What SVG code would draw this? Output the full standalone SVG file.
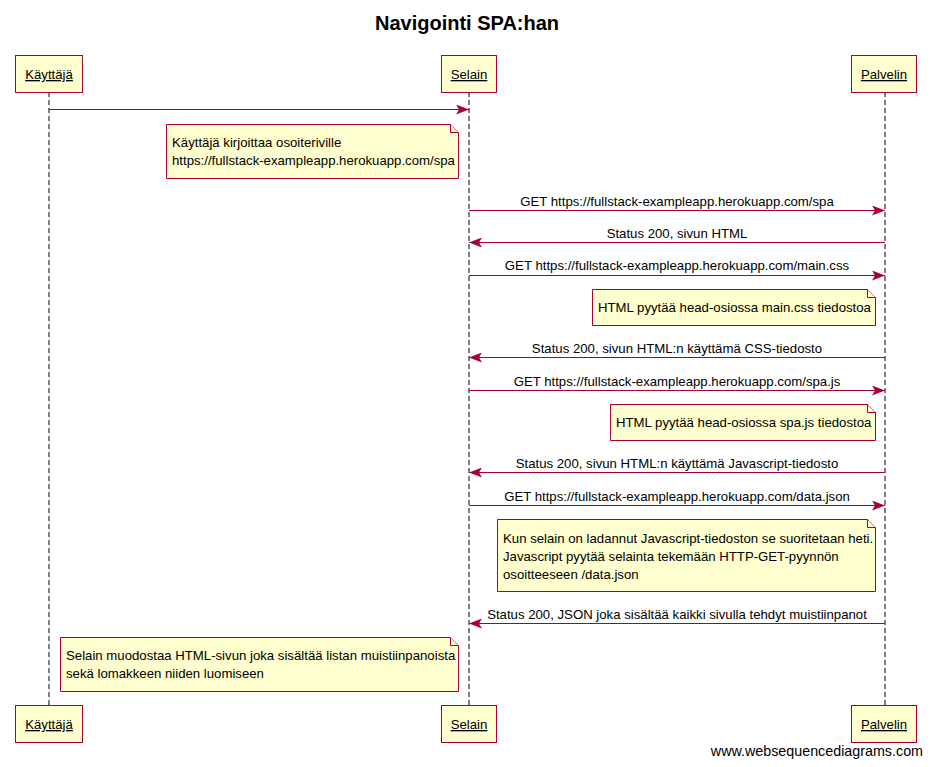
<svg xmlns="http://www.w3.org/2000/svg" width="932" height="767" viewBox="0 0 932 767">
<style>
text{font-family:"Liberation Sans",Arial,sans-serif;font-size:13.2px;fill:#000}
.box{fill:#FEFECE;stroke:#A80036;stroke-width:1}
.life{stroke:#000;stroke-width:1;stroke-dasharray:5,3}
.msg{stroke:#A80036;stroke-width:1;fill:none}
.note{fill:#FEFECE;stroke:#A80036;stroke-width:1}
.pt{text-decoration:underline;text-anchor:middle}
.ml{text-anchor:middle}
</style>
<defs>
<marker id="ah" markerWidth="14" markerHeight="10" refX="13" refY="5" orient="auto" markerUnits="userSpaceOnUse">
<path d="M0,0 L13,5 L0,10 L3,5 Z" fill="#A80036"/>
</marker>
</defs>
<rect width="932" height="767" fill="#fff"/>
<text x="467" y="30" style="font-size:20px;font-weight:bold" text-anchor="middle">Navigointi SPA:han</text>
<g id="lifelines">
<line class="life" x1="49" y1="92" x2="49" y2="705"/>
<line class="life" x1="469" y1="92" x2="469" y2="705"/>
<line class="life" x1="885" y1="92" x2="885" y2="705"/>
</g>
<g id="kayttaja">
<rect class="box" x="15.5" y="55.5" width="67" height="37"/>
<text class="pt" x="49" y="79">Käyttäjä</text>
<rect class="box" x="15.5" y="705.5" width="67" height="37"/>
<text class="pt" x="49" y="729">Käyttäjä</text>
</g>
<g id="selain">
<rect class="box" x="441.5" y="55.5" width="55" height="37"/>
<text class="pt" x="469" y="79">Selain</text>
<rect class="box" x="441.5" y="705.5" width="55" height="37"/>
<text class="pt" x="469" y="729">Selain</text>
</g>
<g id="palvelin">
<rect class="box" x="851.5" y="55.5" width="65" height="37"/>
<text class="pt" x="884" y="79">Palvelin</text>
<rect class="box" x="851.5" y="705.5" width="65" height="37"/>
<text class="pt" x="884" y="729">Palvelin</text>
</g>
<g id="connectors">
<line class="msg" x1="49" y1="109.5" x2="469" y2="109.5" marker-end="url(#ah)"/>
<line class="msg" x1="469" y1="210.5" x2="885" y2="210.5" marker-end="url(#ah)"/>
<text class="ml" x="677" y="206">GET https://fullstack-exampleapp.herokuapp.com/spa</text>
<line class="msg" x1="885" y1="242.5" x2="469" y2="242.5" marker-end="url(#ah)"/>
<text class="ml" x="677" y="238">Status 200, sivun HTML</text>
<line class="msg" x1="469" y1="275.5" x2="885" y2="275.5" marker-end="url(#ah)"/>
<text class="ml" x="677" y="270">GET https://fullstack-exampleapp.herokuapp.com/main.css</text>
<line class="msg" x1="885" y1="357.5" x2="469" y2="357.5" marker-end="url(#ah)"/>
<text class="ml" x="677" y="353">Status 200, sivun HTML:n käyttämä CSS-tiedosto</text>
<line class="msg" x1="469" y1="390.5" x2="885" y2="390.5" marker-end="url(#ah)"/>
<text class="ml" x="677" y="386">GET https://fullstack-exampleapp.herokuapp.com/spa.js</text>
<line class="msg" x1="885" y1="472.5" x2="469" y2="472.5" marker-end="url(#ah)"/>
<text class="ml" x="677" y="468">Status 200, sivun HTML:n käyttämä Javascript-tiedosto</text>
<line class="msg" x1="469" y1="505.5" x2="885" y2="505.5" marker-end="url(#ah)"/>
<text class="ml" x="677" y="501">GET https://fullstack-exampleapp.herokuapp.com/data.json</text>
<line class="msg" x1="885" y1="623.5" x2="469" y2="623.5" marker-end="url(#ah)"/>
<text class="ml" x="677" y="619">Status 200, JSON joka sisältää kaikki sivulla tehdyt muistiinpanot</text>
</g>
<g id="note1">
<path class="note" d="M166.5,124.5 H450.5 L458.5,132.5 V178.5 H166.5 Z"/>
<path class="note" d="M450.5,124.5 V132.5 H458.5"/>
<text x="172" y="147">Käyttäjä kirjoittaa osoiteriville</text>
<text x="172" y="165">https://fullstack-exampleapp.herokuapp.com/spa</text>
</g>
<g id="note2">
<path class="note" d="M592.5,289.5 H867.5 L875.5,297.5 V325.5 H592.5 Z"/>
<path class="note" d="M867.5,289.5 V297.5 H875.5"/>
<text x="598" y="312">HTML pyytää head-osiossa main.css tiedostoa</text>
</g>
<g id="note3">
<path class="note" d="M610.5,404.5 H867.5 L875.5,412.5 V440.5 H610.5 Z"/>
<path class="note" d="M867.5,404.5 V412.5 H875.5"/>
<text x="616" y="427">HTML pyytää head-osiossa spa.js tiedostoa</text>
</g>
<g id="note4">
<path class="note" d="M497.5,519.5 H867.5 L875.5,527.5 V591.5 H497.5 Z"/>
<path class="note" d="M867.5,519.5 V527.5 H875.5"/>
<text x="503" y="543">Kun selain on ladannut Javascript-tiedoston se suoritetaan heti.</text>
<text x="503" y="561">Javascript pyytää selainta tekemään HTTP-GET-pyynnön</text>
<text x="503" y="579">osoitteeseen /data.json</text>
</g>
<g id="note5">
<path class="note" d="M60.5,637.5 H450.5 L458.5,645.5 V691.5 H60.5 Z"/>
<path class="note" d="M450.5,637.5 V645.5 H458.5"/>
<text x="66" y="660">Selain muodostaa HTML-sivun joka sisältää listan muistiinpanoista</text>
<text x="66" y="678">sekä lomakkeen niiden luomiseen</text>
</g>
<text x="923" y="756" style="font-size:14.3px" text-anchor="end">www.websequencediagrams.com</text>
</svg>
